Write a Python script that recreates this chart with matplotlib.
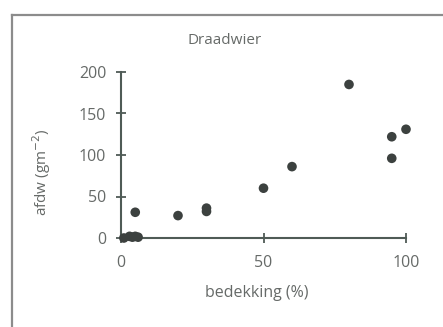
import matplotlib
matplotlib.use('Agg')
import matplotlib.pyplot as plt
from matplotlib.lines import Line2D

# bedekking (%) en afdw (g m-2)
bedekking = [1, 3, 4, 5, 6, 5, 20, 30, 30, 50, 60, 80, 95, 95, 100]
afdw = [0, 2, 1, 2, 1, 31, 27, 36, 32, 60, 86, 185, 122, 96, 131]

x_ticks = [0, 50, 100]
y_ticks = [0, 50, 100, 150, 200]

plt.rcParams['font.family'] = ['Open Sans', 'DejaVu Sans']
text_col = '#666a68'
axis_col = '#4f5b56'
dot_col = '#3c413f'

fig = plt.figure(figsize=(4.43, 3.27), dpi=100)
ax = fig.add_axes([121 / 443, 1 - 238 / 327, 285 / 443, 166 / 327])

ax.scatter(bedekking, afdw, s=48, color=dot_col, edgecolors='none', clip_on=False, zorder=3)

ax.set_xlim(0, 100)
ax.set_ylim(0, 200)
ax.set_xticks(x_ticks)
ax.set_yticks(y_ticks)
for s in ['top', 'right']:
	ax.spines[s].set_visible(False)
for s in ['left', 'bottom']:
	ax.spines[s].set_color(axis_col)
	ax.spines[s].set_linewidth(1.5)
ax.tick_params(axis='both', direction='inout', length=7, width=1.3, color=axis_col,
	labelcolor=text_col, labelsize=11.5)
ax.tick_params(axis='y', pad=7)
ax.tick_params(axis='x', pad=9)
ax.patch.set_alpha(0)

fig.text(225 / 443, 1 - 41 / 327, 'Draadwier', ha='center', va='center', fontsize=11, color=text_col)
fig.text(257 / 443, 1 - 293 / 327, 'bedekking (%)', ha='center', va='center', fontsize=11.5, color=text_col)
fig.text(42 / 443, 1 - 172 / 327, r'afdw (gm$^{-2}$)', ha='center', va='center', fontsize=11,
	color=text_col, rotation=90)

# kader om de figuur (links en boven)
fig.add_artist(Line2D([12 / 443, 12 / 443], [0, 1 - 15 / 327], transform=fig.transFigure,
	color='#8c8c8c', lw=1.6))
fig.add_artist(Line2D([12 / 443, 1], [1 - 15 / 327, 1 - 15 / 327], transform=fig.transFigure,
	color='#8c8c8c', lw=1.6))

fig.savefig('out.png', dpi=100)
